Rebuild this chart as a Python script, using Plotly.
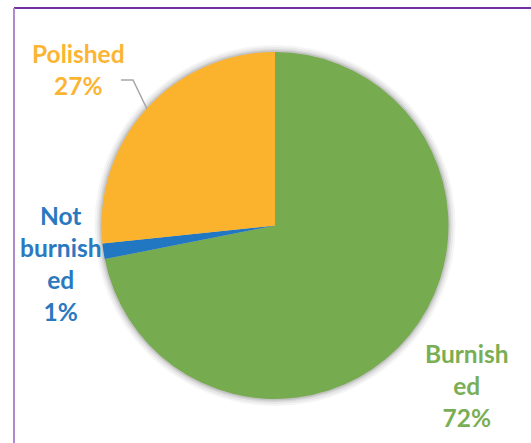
import plotly.graph_objects as go

labels = ["Burnished", "Not burnished", "Polished"]
label_lines = ["Burnish<br>ed", "Not<br>burnish<br>ed", "Polished"]
values = [71.9, 1.45, 26.65]
colors = ["#77AB50", "#2177C1", "#FBB32D"]
text_colors = ["#7AAE55", "#2A79BF", "#FBB533"]

W, H = 531, 443
cx, cy, r = 275, 225.5, 173.5

def dom(rad):
    return dict(x=[(cx - rad) / W, (cx + rad) / W],
                y=[(H - cy - rad) / H, (H - cy + rad) / H])

fig = go.Figure()
# soft shadow rings
for k, op in [(7, 0.04), (5, 0.05), (3, 0.07), (1.5, 0.09)]:
    fig.add_trace(go.Pie(values=[1], labels=["s"], marker=dict(colors=["#000000"]),
                         opacity=op, textinfo="none", hoverinfo="skip",
                         showlegend=False, domain=dom(r + k), sort=False))

fig.add_trace(go.Pie(
    labels=labels, values=values, sort=False, direction="clockwise", rotation=0,
    marker=dict(colors=colors, line=dict(width=0)),
    textinfo="none", showlegend=False, domain=dom(r),
))

total = sum(values)
pos = [(467, 385), (61, 263.5), (78.5, 69)]
anns = []
for lab, v, c, (px, py) in zip(label_lines, values, text_colors, pos):
    anns.append(dict(
        text=f"<b>{lab}<br>{round(100 * v / total)}%</b>",
        x=px / W, y=1 - py / H, xref="paper", yref="paper",
        showarrow=False, align="center", xanchor="center", yanchor="middle",
        font=dict(family="Lato", size=24.5, color=c),
    ))

fig.update_layout(
    width=W, height=H, margin=dict(l=0, r=0, t=0, b=0),
    paper_bgcolor="white", plot_bgcolor="white",
    annotations=anns,
    shapes=[
        dict(type="line", xref="paper", yref="paper",
             x0=14 / W, x1=1.05, y0=1 - 8 / H, y1=1 - 8 / H,
             line=dict(color="#7030A0", width=2)),
        dict(type="line", xref="paper", yref="paper",
             x0=14 / W, x1=14 / W, y0=-0.05, y1=1 - 8 / H,
             line=dict(color="#B18BCF", width=2)),
        dict(type="path", xref="paper", yref="paper",
             path=f"M {121/W},{1-80/H} L {133/W},{1-80/H} L {147/W},{1-109/H}",
             line=dict(color="#A6A6A6", width=1.5)),
    ],
)
fig.write_html("out.html", config={"displayModeBar": False},
               post_script="document.body.style.margin='0';document.body.style.overflow='hidden';")
